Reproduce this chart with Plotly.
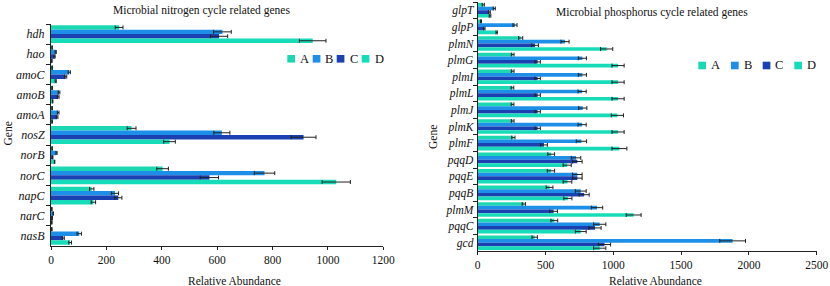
import plotly.graph_objects as go

W, H = 830, 286

# ---------------- data ----------------
series_names = ["A", "B", "C", "D"]
series_colors = ["#1CD8B2", "#1E8FE8", "#1A40B2", "#17DCB9"]

n_genes = ["hdh", "hao", "amoC", "amoB", "amoA", "nosZ", "norB", "norC", "napC", "narC", "nasB"]
n_A = [246, 4, 4, 4, 4, 291, 4, 403, 147, 3, 3]
n_A_err = [14, 1, 1, 1, 1, 16, 1, 21, 8, 1, 1]
n_B = [619, 17, 66, 29, 26, 617, 20, 771, 231, 8, 102]
n_B_err = [32, 2, 4, 3, 3, 29, 2, 37, 13, 1, 8]
n_C = [607, 13, 53, 26, 22, 912, 6, 572, 243, 4, 44]
n_C_err = [31, 2, 4, 3, 3, 45, 1, 33, 13, 1, 4]
n_D = [945, 3, 17, 6, 4, 428, 13, 1030, 153, 3, 69]
n_D_err = [48, 1, 2, 1, 1, 21, 1, 51, 8, 1, 5]

p_genes = ["glpT", "glpP", "plmN", "plmG", "plmI", "plmL", "plmJ", "plmK", "plmF",
           "pqqD", "pqqE", "pqqB", "plmM", "pqqC", "gcd"]
p_A = [41, 24, 317, 258, 258, 256, 257, 258, 263, 542, 540, 530, 340, 565, 420]
p_A_err = [8, 4, 15, 10, 10, 10, 10, 10, 12, 25, 27, 25, 12, 25, 20]
p_B = [122, 275, 644, 772, 772, 770, 775, 770, 765, 725, 735, 760, 880, 900, 1880]
p_B_err = [8, 15, 30, 30, 30, 30, 30, 30, 38, 35, 35, 40, 42, 45, 95]
p_C = [86, 49, 423, 442, 442, 442, 442, 442, 489, 735, 735, 785, 560, 865, 935]
p_C_err = [7, 5, 25, 20, 20, 20, 20, 20, 25, 35, 35, 37, 28, 45, 45]
p_D = [91, 140, 951, 1035, 1035, 1035, 1030, 1035, 1045, 660, 662, 665, 1150, 760, 900]
p_D_err = [6, 5, 45, 45, 45, 45, 45, 45, 55, 30, 32, 30, 55, 40, 45]

n_ticks = [0, 200, 400, 600, 800, 1000, 1200]
p_ticks = [0, 500, 1000, 1500, 2000, 2500]

left_title = "Microbial nitrogen cycle related genes"
right_title = "Microbial phosphorus cycle related genes"
x_title = "Relative Abundance"
y_title = "Gene"

# ---------------- helpers ----------------
def px(x):
    return x / W

def py(y):
    return 1 - y / H

FONT = "Liberation Serif"

fig = go.Figure()

n_vals = [n_A, n_B, n_C, n_D]
n_errs = [n_A_err, n_B_err, n_C_err, n_D_err]
p_vals = [p_A, p_B, p_C, p_D]
p_errs = [p_A_err, p_B_err, p_C_err, p_D_err]

for name, col, v, e in zip(series_names, series_colors, n_vals, n_errs):
    fig.add_trace(go.Bar(
        y=n_genes, x=v, orientation="h", name=name, marker_color=col,
        marker_line_width=0,
        error_x=dict(type="data", array=e, color="#222222", thickness=1, width=2),
        xaxis="x", yaxis="y", showlegend=False,
    ))
for name, col, v, e in zip(series_names, series_colors, p_vals, p_errs):
    fig.add_trace(go.Bar(
        y=p_genes, x=v, orientation="h", name=name, marker_color=col,
        marker_line_width=0,
        error_x=dict(type="data", array=e, color="#222222", thickness=1, width=2),
        xaxis="x2", yaxis="y2", showlegend=False,
    ))

tickfont = dict(family=FONT, size=11.5, color="#111111")
genefont_n = dict(family=FONT, size=12, color="#111111", style="italic")
genefont_p = dict(family=FONT, size=11.5, color="#111111", style="italic")

common_x = dict(showgrid=False, zeroline=False, showline=True, linecolor="#222222",
                linewidth=1, ticks="outside", ticklen=3, tickcolor="#222222",
                tickfont=tickfont, automargin=False)
common_y = dict(showgrid=False, zeroline=False, showline=True, linecolor="#222222",
                linewidth=1, ticks="outside", ticklen=4, tickcolor="#222222",
                tickson="boundaries", automargin=False, type="category")

fig.update_layout(
    width=W, height=H, autosize=False,
    margin=dict(l=0, r=0, t=0, b=0, pad=0),
    paper_bgcolor="white", plot_bgcolor="white",
    barmode="group", bargap=0.12, bargroupgap=0,
    font=dict(family=FONT, size=11, color="#111111"),
    xaxis=dict(domain=[px(51), px(383.3)], range=[0, 1200], tickvals=n_ticks,
               anchor="y", **common_x),
    yaxis=dict(domain=[py(246), py(24)], categoryorder="array", categoryarray=n_genes,
               range=[len(n_genes) - 0.5, -0.5], anchor="x", tickfont=genefont_n,
               ticklabelstandoff=3, **common_y),
    xaxis2=dict(domain=[px(477.7), px(816.7)], range=[0, 2500], tickvals=p_ticks,
                anchor="y2", **common_x),
    yaxis2=dict(domain=[py(251), py(2)], categoryorder="array", categoryarray=p_genes,
                range=[len(p_genes) - 0.5, -0.5], anchor="x2", tickfont=genefont_p,
                ticklabelstandoff=1, **common_y),
)

ann = []
# titles
ann.append(dict(text=left_title, x=px(201), y=py(10.5), xref="paper", yref="paper",
                showarrow=False, xanchor="center", yanchor="middle",
                font=dict(family=FONT, size=11.5, color="#111111")))
ann.append(dict(text=right_title, x=px(652), y=py(12.5), xref="paper", yref="paper",
                showarrow=False, xanchor="center", yanchor="middle",
                font=dict(family=FONT, size=11.5, color="#111111")))
# axis titles
for xc in (234, 655):
    ann.append(dict(text=x_title, x=px(xc), y=py(280.5), xref="paper", yref="paper",
                    showarrow=False, xanchor="center", yanchor="middle",
                    font=dict(family=FONT, size=11.5, color="#111111")))
for xc, yc in ((7.5, 134), (433, 137)):
    ann.append(dict(text=y_title, x=px(xc), y=py(yc), xref="paper", yref="paper",
                    showarrow=False, xanchor="center", yanchor="middle", textangle=-90,
                    font=dict(family=FONT, size=11.5, color="#111111")))

# legends (square + letter)
shapes = []
left_leg = [(287.3, 298.3), (312.7, 323.3), (336.7, 348.3), (361.7, 372.7)]
right_leg = [(698.3, 709.3), (731, 741.7), (762.7, 773.3), (794.3, 805)]
for (positions, yc) in ((left_leg, 58.8), (right_leg, 65.5)):
    for (sx, tx), name, col in zip(positions, series_names, series_colors):
        shapes.append(dict(type="rect", xref="paper", yref="paper",
                           x0=px(sx), x1=px(sx + 7.7), y0=py(yc + 3.8), y1=py(yc - 3.8),
                           fillcolor=col, line=dict(width=0)))
        ann.append(dict(text=name, x=px(tx), y=py(yc), xref="paper", yref="paper",
                        showarrow=False, xanchor="left", yanchor="middle",
                        font=dict(family=FONT, size=12.5, color="#111111")))

fig.update_layout(annotations=ann, shapes=shapes)

fig.write_html(
    "out.html",
    config={"displayModeBar": False},
    post_script="document.body.style.margin='0px';document.body.style.padding='0px';",
)
